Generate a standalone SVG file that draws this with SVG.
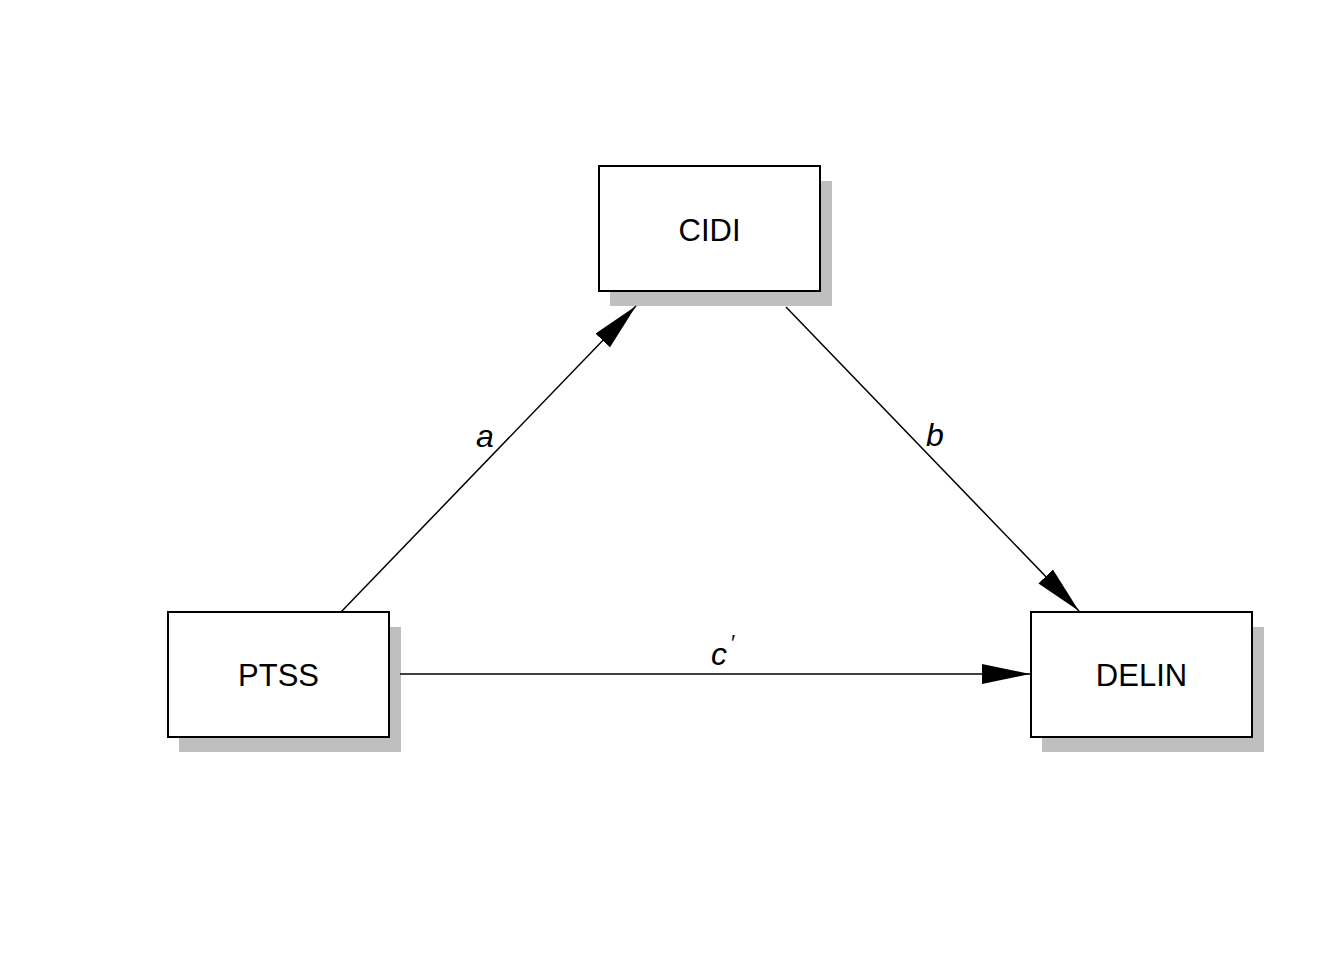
<svg xmlns="http://www.w3.org/2000/svg" width="1344" height="960" viewBox="0 0 1344 960">
<style>
.shadow{fill:#bfbfbf;stroke:none}
.box{fill:#fff;stroke:#000;stroke-width:2}
.lbl{font-family:"Liberation Sans",Arial,sans-serif;font-size:31px;fill:#000;text-anchor:middle}
.path-lbl{font-family:"Liberation Sans",Arial,sans-serif;font-size:32px;font-style:italic;fill:#000;text-anchor:middle}
.edge{stroke:#000;stroke-width:1.5;fill:none;marker-end:url(#arr)}
</style>
<defs>
<marker id="arr" markerUnits="userSpaceOnUse" markerWidth="50" markerHeight="22" refX="48" refY="10" orient="auto">
<path d="M0,0 L48,10 L0,20 Z" fill="#000"/>
</marker>
</defs>
<rect width="1344" height="960" fill="#fff"/>
<g id="node-CIDI">
<rect class="shadow" x="610" y="181" width="222" height="125"/>
<rect class="box" x="599" y="166" width="221" height="125"/>
<text class="lbl" x="709.5" y="241">CIDI</text>
</g>
<g id="node-PTSS">
<rect class="shadow" x="179" y="627" width="222" height="125"/>
<rect class="box" x="168" y="612" width="221" height="125"/>
<text class="lbl" x="278.5" y="686">PTSS</text>
</g>
<g id="node-DELIN">
<rect class="shadow" x="1042" y="627" width="222" height="125"/>
<rect class="box" x="1031" y="612" width="221" height="125"/>
<text class="lbl" x="1141.5" y="686">DELIN</text>
</g>
<g id="connectors">
<line class="edge" x1="341" y1="612" x2="636" y2="306"/>
<line class="edge" x1="786" y1="307" x2="1079" y2="611"/>
<line class="edge" x1="400" y1="674" x2="1030" y2="674"/>
<text class="path-lbl" x="485" y="447">a</text>
<text class="path-lbl" x="935" y="446">b</text>
<text class="path-lbl" x="719" y="665">c</text>
<text class="path-lbl" x="732" y="650" style="font-size:22px">′</text>
</g>
</svg>
